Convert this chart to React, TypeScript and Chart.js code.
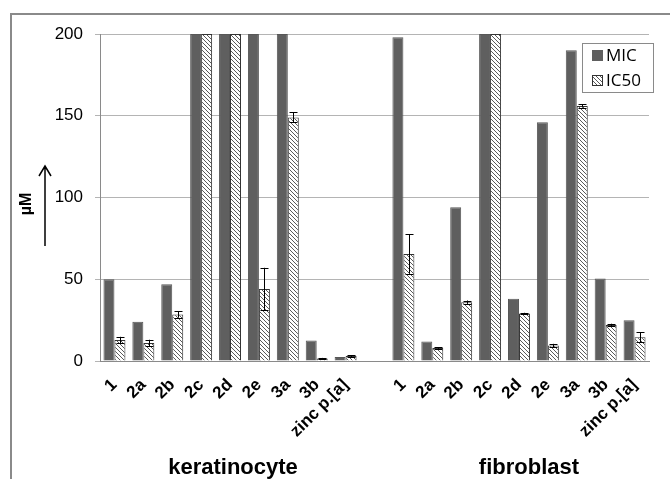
import React, { useEffect, useRef } from "react";
import { Chart, registerables } from "chart.js";

Chart.register(...registerables);

const groupNames = ["keratinocyte", "fibroblast"];
const compounds = ["1", "2a", "2b", "2c", "2d", "2e", "3a", "3b", "zinc p.[a]"];
const categories = [...compounds, "", ...compounds];

const kerMIC = [50, 24, 47, 200, 200, 200, 200, 12.5, 2.5];
const kerIC50 = [12.8, 11, 28.5, 200, 200, 44, 149, 1.5, 3];
const kerIC50Err = [2, 2, 2, 0, 0, 13, 3, 0.4, 0.5];
const fibMIC = [198, 12, 94, 200, 38, 146, 190, 50.5, 25];
const fibIC50 = [65.5, 8, 36, 200, 29, 9.5, 156, 22, 14.5];
const fibIC50Err = [12, 0.5, 1, 0, 0.5, 1, 1, 0.8, 3];

const yTicks = [0, 50, 100, 150, 200];

const micData = [...kerMIC, null, ...fibMIC];
const ic50Data = [...kerIC50, null, ...fibIC50];
const ic50Err = [...kerIC50Err, null, ...fibIC50Err];

function makeHatch(): CanvasPattern | string {
  const c = document.createElement("canvas");
  c.width = 4;
  c.height = 4;
  const g = c.getContext("2d");
  if (!g) return "#ccc";
  g.fillStyle = "#ffffff";
  g.fillRect(0, 0, 4, 4);
  g.strokeStyle = "#5a5a5a";
  g.lineWidth = 1;
  g.beginPath();
  g.moveTo(-1, -1);
  g.lineTo(5, 5);
  g.moveTo(-1, 3);
  g.lineTo(1, 5);
  g.moveTo(3, -1);
  g.lineTo(5, 1);
  g.stroke();
  return g.createPattern(c, "repeat") || "#ccc";
}

const framePlugin = {
  id: "frame",
  beforeDraw(chart: any) {
    const ctx = chart.ctx;
    ctx.save();
    ctx.fillStyle = "#ffffff";
    ctx.fillRect(0, 0, chart.width, chart.height);
    ctx.strokeStyle = "#8a8a8a";
    ctx.lineWidth = 2;
    ctx.strokeRect(11, 14, chart.width + 20, chart.height + 20);
    ctx.restore();
  },
};

const extrasPlugin = {
  id: "extras",
  afterDatasetsDraw(chart: any) {
    const ctx = chart.ctx;
    const y = chart.scales.y;
    const meta = chart.getDatasetMeta(1);
    ctx.save();
    ctx.strokeStyle = "#000";
    ctx.lineWidth = 1;
    meta.data.forEach((bar: any, i: number) => {
      const v = ic50Data[i];
      const e = ic50Err[i];
      if (v == null || e == null || e === 0) return;
      const bx = Math.round(bar.x) + 0.5;
      const top = y.getPixelForValue(Math.min(v + e, 200));
      const bot = y.getPixelForValue(v - e);
      ctx.beginPath();
      ctx.moveTo(bx, top);
      ctx.lineTo(bx, bot);
      ctx.moveTo(bx - 4, Math.round(top) + 0.5);
      ctx.lineTo(bx + 4, Math.round(top) + 0.5);
      ctx.moveTo(bx - 4, Math.round(bot) + 0.5);
      ctx.lineTo(bx + 4, Math.round(bot) + 0.5);
      ctx.stroke();
    });
    ctx.restore();
  },
  afterDraw(chart: any) {
    const ctx = chart.ctx;
    const x = chart.scales.x;
    ctx.save();
    ctx.save();
    ctx.translate(27, 204);
    ctx.rotate(-Math.PI / 2);
    ctx.fillStyle = "#000";
    ctx.font = "bold 16px 'Liberation Sans'";
    ctx.textAlign = "center";
    ctx.textBaseline = "middle";
    ctx.fillText("µM", 0, 0);
    ctx.restore();
    ctx.strokeStyle = "#000";
    ctx.lineWidth = 1.5;
    ctx.beginPath();
    ctx.moveTo(45, 246);
    ctx.lineTo(45, 167);
    ctx.moveTo(39, 176);
    ctx.lineTo(45, 166);
    ctx.lineTo(51, 176);
    ctx.stroke();
    ctx.fillStyle = "#000";
    ctx.font = "bold 22px 'Liberation Sans'";
    ctx.textAlign = "center";
    ctx.textBaseline = "alphabetic";
    const c1 = x.getPixelForValue(4) + 3;
    const c2 = x.getPixelForValue(14) + 10;
    ctx.fillText(groupNames[0], c1, 474);
    ctx.fillText(groupNames[1], c2, 474);
    const lx = 582, ly = 43, lw = 71, lh = 49;
    ctx.fillStyle = "#fff";
    ctx.fillRect(lx, ly, lw, lh);
    ctx.strokeStyle = "#8a8a8a";
    ctx.lineWidth = 1;
    ctx.strokeRect(lx + 0.5, ly + 0.5, lw, lh);
    const ds = chart.data.datasets;
    const rows = [55, 80];
    ds.forEach((d: any, i: number) => {
      const cy = rows[i];
      ctx.fillStyle = d.backgroundColor;
      ctx.fillRect(592, cy - 5, 11, 11);
      ctx.strokeStyle = i === 0 ? "#5f5f5f" : "#333";
      ctx.strokeRect(592.5, cy - 4.5, 10, 10);
      ctx.fillStyle = "#000";
      ctx.font = "17px 'Open Sans'";
      ctx.textAlign = "left";
      ctx.textBaseline = "middle";
      ctx.fillText(d.label, 606, cy + 1);
    });
    ctx.restore();
  },
};

export default function App() {
  const ref = useRef<HTMLCanvasElement | null>(null);
  useEffect(() => {
    if (!ref.current) return;
    const hatch = makeHatch();
    const chart = new Chart(ref.current, {
      type: "bar",
      data: {
        labels: categories,
        datasets: [
          {
            label: "MIC",
            data: micData as any,
            backgroundColor: "#5f5f5f",
            borderColor: "#575757",
            borderWidth: 1,
          },
          {
            label: "IC50",
            data: ic50Data as any,
            backgroundColor: hatch as any,
            borderColor: "#333333",
            borderWidth: 1,
          },
        ],
      },
      options: {
        animation: false,
        responsive: false,
        devicePixelRatio: 1,
        datasets: { bar: { categoryPercentage: 0.76, barPercentage: 1 } },
        layout: { padding: { top: 34, left: 0, right: 21, bottom: 0 } },
        plugins: { legend: { display: false }, tooltip: { enabled: false } },
        scales: {
          x: {
            grid: { display: false },
            border: { display: true, color: "#8a8a8a", width: 1 },
            ticks: {
              autoSkip: false,
              minRotation: 45,
              maxRotation: 45,
              color: "#000",
              padding: 6,
              font: { family: "'Liberation Sans'", size: 17, weight: "bold" },
            },
            afterFit: (s: any) => {
              s.height = 118;
            },
          },
          y: {
            min: 0,
            max: 200,
            afterBuildTicks: (s: any) => {
              s.ticks = yTicks.map((v) => ({ value: v }));
            },
            grid: { color: "#b4b4b4", tickLength: 5 },
            border: { display: true, color: "#8a8a8a" },
            ticks: {
              color: "#000",
              padding: 12,
              font: { family: "'Liberation Sans'", size: 17 },
            },
            afterFit: (s: any) => {
              s.width = 100;
            },
          },
        },
      },
      plugins: [framePlugin, extrasPlugin],
    });
    return () => chart.destroy();
  }, []);
  return (
    <div style={{ position: "absolute", left: 0, top: 0, width: 670, height: 479 }}>
      <canvas ref={ref} width={670} height={479} style={{ display: "block" }} />
    </div>
  );
}
